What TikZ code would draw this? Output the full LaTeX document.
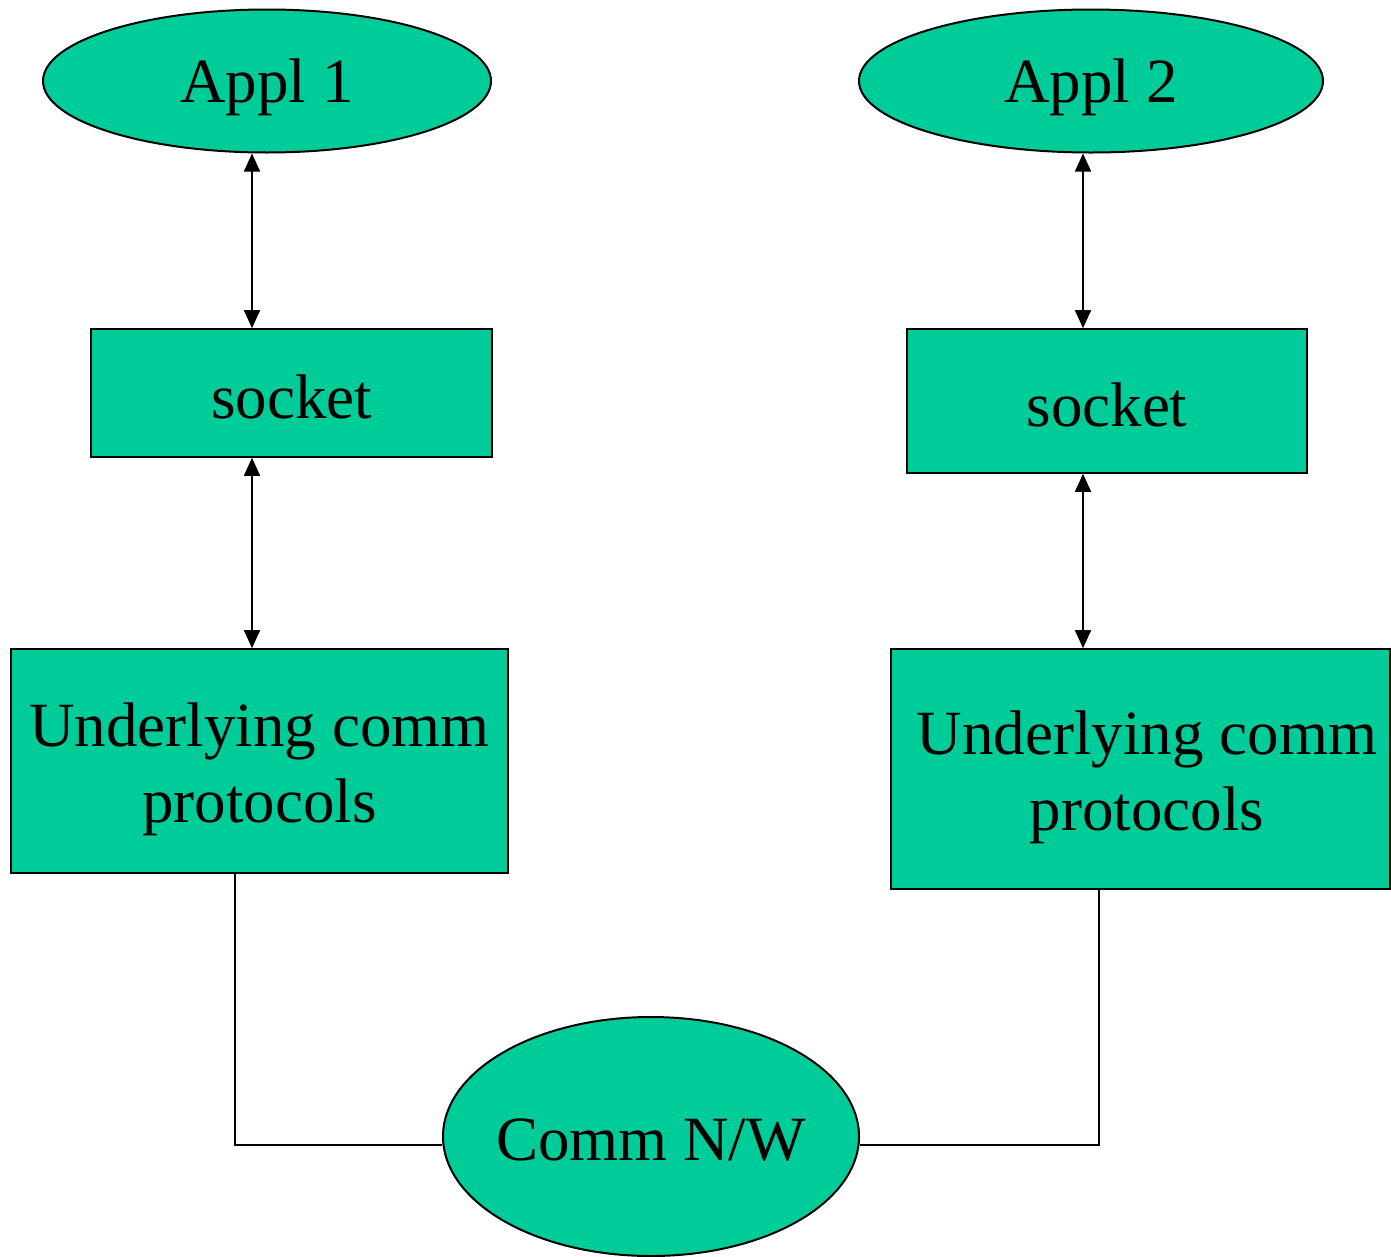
\documentclass[tikz,border=0pt]{standalone}
\usepackage{fontspec}
\setmainfont{Liberation Serif}
\usetikzlibrary{shapes.geometric,arrows.meta}
\definecolor{teal1}{HTML}{00CC99}
\begin{document}
\begin{tikzpicture}[x=1pt,y=-1pt,
  lbl/.style={font=\fontsize{63}{76}\selectfont, align=center, text=black},
  oval/.style={ellipse, draw=black, line width=2pt, fill=teal1, inner sep=0pt},
  box/.style={rectangle, draw=black, line width=1.6pt, fill=teal1, inner sep=0pt},
  arr/.style={{Triangle[width=16pt,length=18pt]}-{Triangle[width=16pt,length=18pt]}, line width=1.6pt},
  wire/.style={line width=1.6pt}]
\useasboundingbox (0,0) rectangle (1391,1256);
\node[oval, minimum width=448pt, minimum height=143pt] (appl1) at (267,81) {};
\node[lbl] (t1) at (267,87) {Appl 1};
\node[oval, minimum width=464pt, minimum height=143pt] (appl2) at (1091,81) {};
\node[lbl] (t2) at (1091,87) {Appl 2};
\node[box, minimum width=401pt, minimum height=128pt] (sock1) at (291.5,393) {};
\node[lbl] (t3) at (291.5,397) {socket};
\node[box, minimum width=400pt, minimum height=144pt] (sock2) at (1107,401) {};
\node[lbl] (t4) at (1107,405) {socket};
\node[box, minimum width=497pt, minimum height=224pt] (u1) at (259.5,761) {};
\node[lbl] (t5) at (259.5,769) {Underlying comm\\protocols};
\node[box, minimum width=499pt, minimum height=240pt] (u2) at (1140.5,769) {};
\node[lbl] (t6) at (1147,777) {Underlying comm\\protocols};
\node[oval, minimum width=416pt, minimum height=239pt] (comm) at (651,1136.5) {};
\node[lbl] (t7) at (651,1140) {Comm N/W};
\coordinate (a1) at (252,0);
\coordinate (a2) at (1083,0);
\coordinate (w1) at (235,0);
\coordinate (w2) at (1099,0);
\coordinate (yw) at (0,1145);
\draw[arr] (a1 |- appl1.south) -- (a1 |- sock1.north);
\draw[arr] (a1 |- sock1.south) -- (a1 |- u1.north);
\draw[arr] (a2 |- appl2.south) -- (a2 |- sock2.north);
\draw[arr] (a2 |- sock2.south) -- (a2 |- u2.north);
\draw[wire] (w1 |- u1.south) -- (w1 |- yw) -- (comm.west |- yw);
\draw[wire] (w2 |- u2.south) -- (w2 |- yw) -- (comm.east |- yw);
\end{tikzpicture}
\end{document}
